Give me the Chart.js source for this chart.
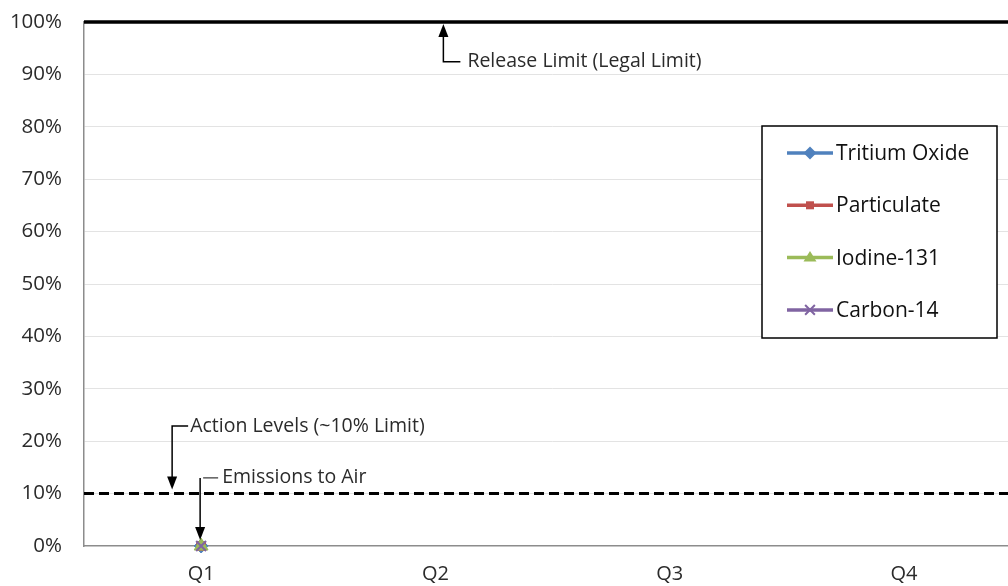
<!DOCTYPE html>
<html><head><meta charset="utf-8">
<script src="https://cdn.jsdelivr.net/npm/chart.js@4.4.0/dist/chart.umd.min.js"></script>
<style>
html,body{margin:0;padding:0;background:#fff;overflow:hidden;width:1008px;height:586px;}
#wrap{position:absolute;left:0;top:0;width:1030px;height:586px;}
</style></head><body>
<div id="wrap"><canvas id="c"></canvas></div>
<script>
// ---- data ----
const quarters = ['Q1', 'Q2', 'Q3', 'Q4'];
const tritiumOxide = [0, null, null, null];
const particulate = [0, null, null, null];
const iodine131 = [0, null, null, null];
const carbon14 = [0, null, null, null];
const releaseLimit = 100;   // % of limit
const actionLevel = 10;     // % of limit
const yTicks = [0, 10, 20, 30, 40, 50, 60, 70, 80, 90, 100];

const FONT = '"Open Sans", Lato, sans-serif';
const TXT = '#2b2b2b';
const C_BLUE = '#4F81BD', C_RED = '#C0504D', C_GREEN = '#9BBB59', C_PURPLE = '#8064A2';

const series = [
  {label:'Tritium Oxide', data:tritiumOxide, color:C_BLUE, style:'rectRot', r:7, order:4},
  {label:'Particulate', data:particulate, color:C_RED, style:'rect', r:6, order:3},
  {label:'Iodine-131', data:iodine131, color:C_GREEN, style:'triangle', r:8, order:2},
  {label:'Carbon-14', data:carbon14, color:C_PURPLE, style:'crossRot', r:7, order:1}
];

const datasets = series.map(s => ({
  label: s.label, data: s.data, borderColor: s.color, backgroundColor: s.color,
  pointStyle: s.style, pointRadius: s.r, pointBorderWidth: s.style==='crossRot'?2:1,
  borderWidth: 3, showLine: true, clip: false, order: s.order, xAxisID: 'x', yAxisID: 'y'
}));
datasets.push({
  label:'Release Limit', data:[{x:0,y:releaseLimit},{x:1,y:releaseLimit}], xAxisID:'x2', yAxisID:'y',
  borderColor:'#000', borderWidth:3.5, pointRadius:0, clip:false, order:10
});
datasets.push({
  label:'Action Level', data:[{x:0,y:actionLevel},{x:1,y:actionLevel}], xAxisID:'x2', yAxisID:'y',
  borderColor:'#000', borderWidth:3, borderDash:[10,5], pointRadius:0, clip:false, order:10
});

function arrowHead(ctx, x, y, dir){ // dir: 1 = pointing down, -1 = pointing up
  ctx.beginPath();
  ctx.moveTo(x, y);
  ctx.lineTo(x-5, y - dir*13);
  ctx.lineTo(x+5, y - dir*13);
  ctx.closePath();
  ctx.fill();
}

const annotPlugin = {
  id:'annot',
  afterDatasetsDraw(chart){
    const ctx = chart.ctx, xs = chart.scales.x, ys = chart.scales.y;
    ctx.save();
    ctx.strokeStyle = '#000'; ctx.fillStyle = '#000'; ctx.lineWidth = 1.5;
    ctx.font = '19.5px ' + FONT; ctx.textBaseline = 'middle'; ctx.textAlign = 'left';
    const q1 = xs.getPixelForValue(0), q2 = xs.getPixelForValue(1);
    const yRel = ys.getPixelForValue(releaseLimit), yAct = ys.getPixelForValue(actionLevel), y0 = ys.getPixelForValue(0);
    // Release limit
    let ax = q2 + 8, ty = ys.getPixelForValue(92.4);
    ctx.beginPath(); ctx.moveTo(ax+17, ty); ctx.lineTo(ax, ty); ctx.lineTo(ax, yRel+12); ctx.stroke();
    arrowHead(ctx, ax, yRel+2, -1);
    ctx.fillStyle=TXT;
    ctx.fillText('Release Limit (Legal Limit)', ax+24, ty);
    ctx.fillStyle='#000';
    // Action levels
    ax = q1 - 29; ty = ys.getPixelForValue(22.9);
    ctx.beginPath(); ctx.moveTo(ax+16, ty); ctx.lineTo(ax, ty); ctx.lineTo(ax, yAct-16); ctx.stroke();
    arrowHead(ctx, ax, yAct-4, 1);
    ctx.fillStyle=TXT;
    ctx.fillText('Action Levels (~10% Limit)', ax+18, ty);
    ctx.fillStyle='#000';
    // Emissions to air
    ax = q1 - 1; ty = ys.getPixelForValue(13.0);
    ctx.beginPath(); ctx.moveTo(ax, ty); ctx.lineTo(ax, y0-18); ctx.stroke();
    ctx.beginPath(); ctx.lineWidth=1.2; ctx.strokeStyle='#333'; ctx.moveTo(ax+3, ty); ctx.lineTo(ax+18, ty); ctx.stroke();
    arrowHead(ctx, ax, y0-6, 1);
    ctx.fillStyle=TXT;
    ctx.fillText('Emissions to Air', ax+22, ty);
    ctx.restore();
  }
};

function drawMarker(ctx, style, x, y, r, color){
  ctx.save(); ctx.fillStyle=color; ctx.strokeStyle=color; ctx.lineWidth=2;
  ctx.beginPath();
  if(style==='rectRot'){ ctx.moveTo(x, y-r); ctx.lineTo(x+r, y); ctx.lineTo(x, y+r); ctx.lineTo(x-r, y); ctx.closePath(); ctx.fill(); }
  else if(style==='rect'){ ctx.rect(x-r*0.8, y-r*0.8, r*1.6, r*1.6); ctx.fill(); }
  else if(style==='triangle'){ ctx.moveTo(x, y-r); ctx.lineTo(x+r, y+r*0.6); ctx.lineTo(x-r, y+r*0.6); ctx.closePath(); ctx.fill(); }
  else if(style==='crossRot'){ const d=r*0.75; ctx.moveTo(x-d,y-d); ctx.lineTo(x+d,y+d); ctx.moveTo(x+d,y-d); ctx.lineTo(x-d,y+d); ctx.stroke(); }
  ctx.restore();
}

const legendPlugin = {
  id:'boxLegend',
  afterDraw(chart){
    const ctx = chart.ctx;
    const bx = 762, by = 126, bw = 235, bh = 212;
    ctx.save();
    ctx.fillStyle='#fff'; ctx.fillRect(bx, by, bw, bh);
    ctx.strokeStyle='#000'; ctx.lineWidth=1.5; ctx.strokeRect(bx, by, bw, bh);
    ctx.font = '21px ' + FONT; ctx.textBaseline='middle'; ctx.textAlign='left';
    series.forEach((s, i) => {
      const yy = by + 27 + i*52.3;
      ctx.strokeStyle = s.color; ctx.lineWidth = 3.5;
      ctx.beginPath(); ctx.moveTo(bx+25, yy); ctx.lineTo(bx+71, yy); ctx.stroke();
      drawMarker(ctx, s.style, bx+48, yy, s.style==='rect'?5:6.5, s.color);
      ctx.fillStyle = '#111';
      ctx.fillText(s.label, bx+74, yy+1);
    });
    ctx.restore();
  }
};

new Chart(document.getElementById('c'), {
  type:'line',
  data:{ labels: quarters, datasets },
  options:{
    responsive:true, maintainAspectRatio:false, animation:false,
    layout:{ padding:{ left:0, right:7, top:22, bottom:0 } },
    plugins:{ legend:{display:false}, tooltip:{enabled:false} },
    scales:{
      x:{ type:'category', offset:true,
        grid:{ display:false, drawTicks:false },
        border:{ display:true, color:'#8c8c8c', width:1.5 },
        ticks:{ font:{family:FONT, size:20}, color:TXT, padding:16 },
        afterFit(s){ s.height = 40; }
      },
      x2:{ type:'linear', display:false, min:0, max:1 },
      y:{ min:0, max:100,
        afterBuildTicks(s){ s.ticks = yTicks.map(v => ({value:v})); },
        afterFit(s){ s.width = 84; },
        grid:{ drawTicks:true, tickLength:20, tickColor:'rgba(0,0,0,0)',
               color:(c)=> (c.tick && (c.tick.value===0 || c.tick.value===100)) ? 'rgba(0,0,0,0)' : '#e3e3e3', lineWidth:1 },
        border:{ display:true, color:'#8c8c8c', width:1.5 },
        ticks:{ font:{family:FONT, size:20.5}, color:TXT, padding:2, callback:(v)=> v + '%' }
      }
    }
  },
  plugins:[annotPlugin, legendPlugin]
});
</script>
</body></html>
